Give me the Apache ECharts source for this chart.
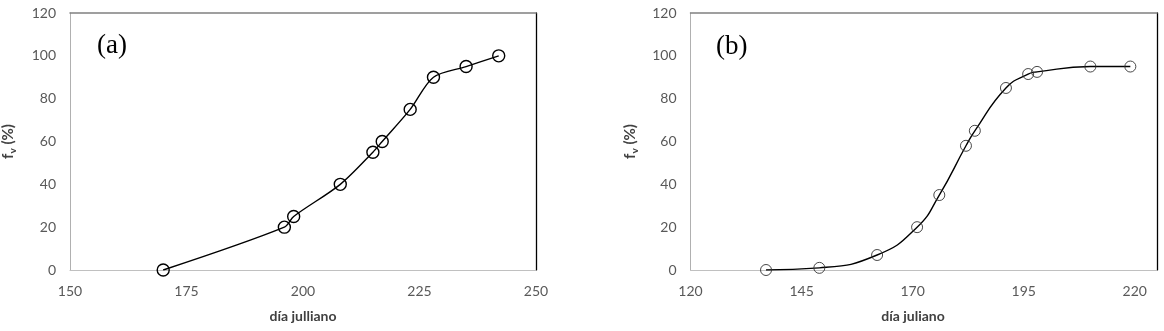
<!DOCTYPE html>
<html>
<head>
<meta charset="utf-8">
<script src="https://cdn.jsdelivr.net/npm/echarts@6/dist/echarts.min.js"></script>
<style>
html,body{margin:0;padding:0;background:#fff;}
#c{width:1164px;height:331px;}
</style>
</head>
<body>
<div id="c"></div>
<script>
// Panel (a)
var daysA = [170, 196, 198, 208, 215, 217, 223, 228, 235, 242];
var fvA   = [0, 20, 25, 40, 55, 60, 75, 90, 95, 100];
// Panel (b)
var daysB = [137, 149, 162, 171, 176, 182, 184, 191, 196, 198, 210, 219];
var fvB   = [0, 1, 7, 20, 35, 58, 65, 85, 91.5, 92.5, 95, 95];
var yTicks = [0, 20, 40, 60, 80, 100, 120];
var xTicksA = [150, 175, 200, 225, 250];
var xTicksB = [120, 145, 170, 195, 220];

function pairs(xs, ys){ return xs.map(function(x,i){ return [x, ys[i]]; }); }

var labelStyle = {color:'#595959', fontFamily:'Lato', fontSize:14};
var nameRich = {
  f:{fontFamily:'Lato', fontWeight:'bold', fontSize:15, color:'#404040'},
  s:{fontFamily:'Lato', fontWeight:'bold', fontSize:10, color:'#404040', verticalAlign:'bottom', padding:[9,0,0,0]}
};

function xMain(grid, min, max, ticks){
  return {
    type:'value', gridIndex:grid, min:min, max:max, interval:25, position:'bottom',
    axisLine:{show:true, onZero:false, lineStyle:{color:'#c0c0c0', width:1}},
    axisTick:{show:false}, splitLine:{show:false},
    axisLabel:Object.assign({margin:14, showMaxLabel:true,
      formatter:function(v){ return ticks.indexOf(v) >= 0 ? String(v) : ''; }}, labelStyle)
  };
}
function xTop(grid, min, max){
  return {type:'value', gridIndex:grid, min:min, max:max, position:'top',
    axisLine:{show:true, onZero:false, lineStyle:{color:'#808080', width:1.5}},
    axisTick:{show:false}, axisLabel:{show:false}, splitLine:{show:false}};
}
function yMain(grid, gap){
  return {
    type:'value', gridIndex:grid, min:0, max:120, interval:20, position:'left',
    axisLine:{show:true, onZero:false, lineStyle:{color:'#b0b0b0', width:1}},
    axisTick:{show:false}, splitLine:{show:false},
    axisLabel:Object.assign({margin:14, formatter:function(v){ return yTicks.indexOf(v)>=0 ? String(v) : ''; }}, labelStyle),
    name:'{f|f}{s|v}{f| (%)}', nameLocation:'middle', nameGap:gap,
    nameTextStyle:{rich:nameRich}
  };
}
function yRight(grid){
  return {type:'value', gridIndex:grid, min:0, max:120, position:'right',
    axisLine:{show:true, onZero:false, lineStyle:{color:'#000', width:1.3}},
    axisTick:{show:false}, axisLabel:{show:false}, splitLine:{show:false}};
}

var option = {
  backgroundColor:'#fff',
  animation:false,
  grid:[
    {left:69, right:628, top:13, bottom:61},
    {left:690.5, right:7, top:13, bottom:61}
  ],
  xAxis:[ xTop(0,150,250), xTop(1,120,225), xMain(0,150,250,xTicksA), xMain(1,120,225,xTicksB) ],
  yAxis:[ yMain(0,52), yMain(1,51), yRight(0), yRight(1) ],
  graphic:[
    {type:'text', x:303, y:316, style:{text:'día julliano', font:'bold 14px Lato', fill:'#404040', align:'center', verticalAlign:'middle'}},
    {type:'text', x:913, y:316, style:{text:'día juliano', font:'bold 14px Lato', fill:'#404040', align:'center', verticalAlign:'middle'}},
    {type:'text', x:97, y:46, style:{text:'(a)', font:'27px "Liberation Serif"', fill:'#000', align:'left', verticalAlign:'middle'}},
    {type:'text', x:716, y:47, style:{text:'(b)', font:'27px "Liberation Serif"', fill:'#000', align:'left', verticalAlign:'middle'}}
  ],
  series:[
    {type:'line', xAxisIndex:2, yAxisIndex:0, data:pairs(daysA, fvA), smooth:0.3,
     symbol:'circle', symbolSize:12, showSymbol:true,
     lineStyle:{color:'#000', width:1.4},
     itemStyle:{color:'rgba(0,0,0,0)', borderColor:'#000', borderWidth:1.4}},
    {type:'line', xAxisIndex:3, yAxisIndex:1, data:pairs(daysB, fvB), smooth:0.5,
     symbol:'circle', symbolSize:11, showSymbol:true,
     lineStyle:{color:'#000', width:1.4},
     itemStyle:{color:'rgba(0,0,0,0)', borderColor:'#333', borderWidth:0.9}}
  ]
};
var chart = echarts.init(document.getElementById('c'), null, {renderer:'canvas'});
chart.setOption(option);
</script>
</body>
</html>
